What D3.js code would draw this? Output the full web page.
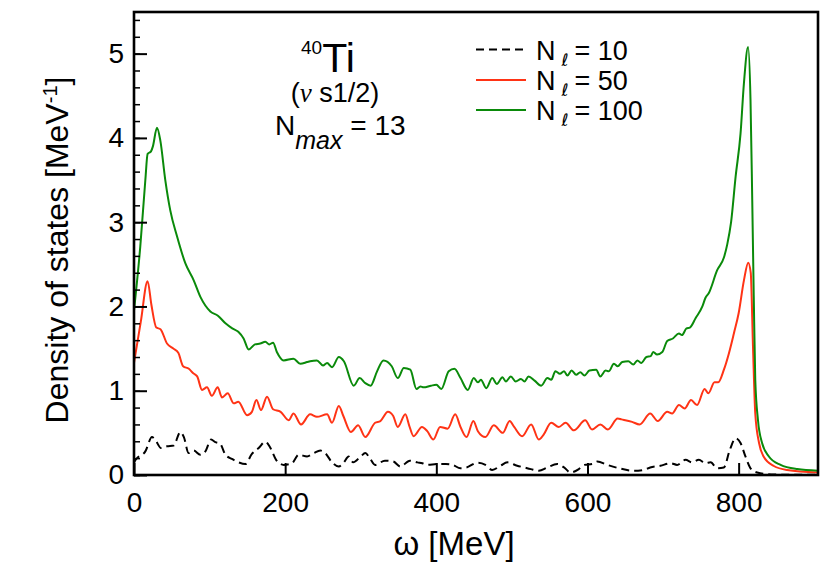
<!DOCTYPE html>
<html>
<head>
<meta charset="utf-8">
<script src="https://cdn.jsdelivr.net/npm/d3@7"></script>
<style>
  body { margin: 0; background: #fff; }
  svg { display: block; }
  text { font-family: "Liberation Sans", Arial, Helvetica, sans-serif; fill: #000; }
</style>
</head>
<body>
<svg id="chart" width="830" height="586"></svg>
<script>
// ---------------- data ----------------
const xTicks = [0, 200, 400, 600, 800];
const yTicks = [0, 1, 2, 3, 4, 5];
const seriesLabels = ["10", "50", "100"];

const omega10 = [0, 3, 15, 23.8, 28.6, 35.7, 43.7, 52.5, 61.3, 66, 72.3, 79, 87.8, 94.4, 102, 107.6, 114, 121, 129.6, 138.5, 147.3, 156, 165, 173.8, 180, 188, 198, 209, 218, 229, 238, 246.6, 253, 262, 271, 277.7, 284, 290, 300, 306, 312, 319, 332, 343, 352.5, 365, 375, 381.5, 388, 401.5, 412.6, 421.5, 432, 440, 454, 465, 474, 485, 494, 507, 516, 525, 535.6, 547, 560, 569, 577.5, 588.6, 596, 606.5, 613, 626, 641.6, 661, 674, 683, 696.5, 710, 718.6, 729.7, 738.5, 747.4, 756, 763, 771.6, 780.5, 788.4, 796, 802.5, 809, 815.7, 824.5, 847, 907];
const dos10 = [0.15, 0.19, 0.28, 0.45, 0.41, 0.32, 0.34, 0.35, 0.51, 0.45, 0.26, 0.29, 0.24, 0.28, 0.42, 0.39, 0.37, 0.24, 0.19, 0.15, 0.13, 0.25, 0.32, 0.395, 0.33, 0.18, 0.12, 0.14, 0.24, 0.22, 0.26, 0.29, 0.26, 0.15, 0.10, 0.15, 0.22, 0.15, 0.22, 0.26, 0.20, 0.12, 0.17, 0.16, 0.10, 0.17, 0.15, 0.14, 0.12, 0.13, 0.13, 0.12, 0.08, 0.09, 0.145, 0.12, 0.06, 0.11, 0.15, 0.11, 0.09, 0.07, 0.05, 0.09, 0.13, 0.09, 0.03, 0.07, 0.12, 0.13, 0.16, 0.12, 0.08, 0.05, 0.06, 0.09, 0.11, 0.14, 0.12, 0.18, 0.15, 0.18, 0.14, 0.15, 0.08, 0.09, 0.30, 0.435, 0.38, 0.22, 0.08, 0.03, 0.005, 0.003];

const omega50 = [0, 9, 18, 23, 29.5, 35, 43.7, 52, 58.6, 65, 72.6, 78, 83.6, 90, 96.6, 103, 110.7, 116.5, 124, 132, 138, 149.6, 156, 162, 168, 176, 184, 194, 204.7, 211, 221, 233, 242, 255.5, 262, 271, 277, 287, 296.5, 306, 319, 326, 336, 343, 349, 359, 364, 370, 381, 388, 396, 405, 415, 425, 432, 440, 449, 455, 465, 476, 488, 497, 503, 513.5, 525.5, 535.6, 542, 552, 562, 571, 582, 597, 606, 617, 627, 640, 645, 659, 669, 683, 693, 705.5, 712, 721, 728.6, 737, 745, 755, 760, 768, 773, 780.5, 787, 793.7, 800, 807, 812.7, 816, 819, 822, 827, 833, 846.6, 864, 907];
const dos50 = [1.33, 1.82, 2.30, 2.02, 1.75, 1.73, 1.56, 1.50, 1.45, 1.29, 1.26, 1.21, 1.17, 1.01, 1.04, 0.94, 1.04, 0.92, 0.97, 0.85, 0.87, 0.71, 0.75, 0.89, 0.77, 0.93, 0.78, 0.75, 0.65, 0.73, 0.60, 0.72, 0.69, 0.72, 0.62, 0.82, 0.70, 0.51, 0.59, 0.45, 0.62, 0.64, 0.75, 0.70, 0.57, 0.72, 0.59, 0.46, 0.57, 0.52, 0.42, 0.57, 0.55, 0.72, 0.57, 0.45, 0.64, 0.52, 0.45, 0.59, 0.50, 0.64, 0.57, 0.46, 0.60, 0.42, 0.48, 0.62, 0.57, 0.62, 0.53, 0.65, 0.54, 0.60, 0.54, 0.67, 0.66, 0.63, 0.60, 0.73, 0.64, 0.75, 0.73, 0.83, 0.79, 0.89, 0.83, 1.02, 0.97, 1.10, 1.10, 1.25, 1.44, 1.68, 1.92, 2.31, 2.52, 2.40, 1.52, 0.73, 0.38, 0.22, 0.107, 0.06, 0.03];

const omega100 = [0, 8.3, 15, 18, 22.5, 25, 30.4, 34.8, 41.4, 48, 57, 68, 79, 88, 101, 111, 121, 130, 138, 145, 151.7, 160, 167, 173.8, 179, 184, 189, 198, 211, 220, 229, 233, 242, 250, 255.5, 262, 271, 277.7, 290.7, 298.6, 306, 313, 321.6, 330, 341, 349, 357, 365.6, 373.7, 379, 383, 393, 400, 406.6, 416.4, 424, 432, 441.6, 449.6, 455, 459, 466, 474, 480, 487.5, 492, 498.6, 505, 512, 516.6, 522, 530, 538.7, 547, 552, 557.6, 563.5, 569, 573.5, 579, 585, 590.5, 596, 602.6, 611.5, 617, 624, 628, 635, 640, 646, 654, 660.6, 666, 671, 678, 683.6, 687, 692, 699, 705.5, 713, 721, 725, 731, 735.5, 743, 752, 756, 760.6, 771.6, 780.5, 785, 790, 796, 802.5, 807, 812.5, 815.7, 818, 820, 822, 825.6, 831, 840, 855.5, 877.6, 907];
const dos100 = [1.95, 2.71, 3.50, 3.81, 3.84, 3.90, 4.12, 3.97, 3.50, 3.14, 2.83, 2.51, 2.31, 2.11, 1.94, 1.89, 1.80, 1.74, 1.70, 1.62, 1.49, 1.55, 1.56, 1.58, 1.55, 1.57, 1.46, 1.36, 1.38, 1.32, 1.34, 1.35, 1.36, 1.30, 1.33, 1.28, 1.40, 1.35, 1.06, 1.15, 1.09, 1.06, 1.23, 1.36, 1.29, 1.15, 1.27, 1.25, 1.02, 1.05, 1.04, 1.06, 1.07, 1.02, 1.23, 1.26, 1.15, 1.01, 1.15, 1.10, 1.13, 1.03, 1.15, 1.08, 1.16, 1.11, 1.17, 1.11, 1.14, 1.11, 1.17, 1.12, 1.06, 1.15, 1.13, 1.23, 1.20, 1.23, 1.18, 1.24, 1.19, 1.22, 1.18, 1.24, 1.25, 1.17, 1.24, 1.23, 1.32, 1.29, 1.34, 1.35, 1.31, 1.36, 1.33, 1.40, 1.41, 1.46, 1.43, 1.46, 1.59, 1.62, 1.68, 1.66, 1.74, 1.75, 1.86, 2.00, 2.10, 2.16, 2.43, 2.58, 2.74, 3.00, 3.54, 4.05, 4.65, 5.08, 4.45, 3.26, 2.12, 1.13, 0.65, 0.38, 0.22, 0.12, 0.07, 0.05];

// ---------------- chart ----------------
const svg = d3.select("#chart");
const L = 134, R = 818, T = 12, B = 475;
const x = d3.scaleLinear().domain([0, 905]).range([L, R]);
const y = d3.scaleLinear().domain([0, 5.5]).range([B, 11.5]);

svg.append("defs").append("clipPath").attr("id", "clip")
  .append("rect").attr("x", L).attr("y", T).attr("width", R - L).attr("height", B - T);

const line = d3.line().x(d => x(d[0])).y(d => y(d[1])).curve(d3.curveMonotoneX);
const plot = svg.append("g").attr("clip-path", "url(#clip)");

const series = [
  { om: omega10, v: dos10, color: "#000", dash: "8,5" },
  { om: omega50, v: dos50, color: "#ff3315", dash: null },
  { om: omega100, v: dos100, color: "#0a8a0a", dash: null }
];
series.forEach(s => {
  plot.append("path")
    .datum(s.om.map((o, i) => [o, s.v[i]]))
    .attr("d", line)
    .attr("fill", "none")
    .attr("stroke", s.color)
    .attr("stroke-width", 2)
    .attr("stroke-dasharray", s.dash)
    .attr("stroke-linejoin", "round");
});

// minor y ticks
svg.append("g").attr("transform", `translate(${L},0)`)
  .call(d3.axisLeft(y).tickValues(d3.range(0, 5.5001, 0.2)).tickSize(-6).tickFormat(""))
  .call(g => g.select(".domain").remove())
  .call(g => g.selectAll("line").attr("stroke-width", 1.5));

// major y ticks
svg.append("g").attr("transform", `translate(${L},0)`)
  .call(d3.axisLeft(y).tickValues(yTicks).tickSize(-13).tickPadding(10).tickFormat(d3.format("d")))
  .call(g => g.select(".domain").remove())
  .call(g => g.selectAll("line").attr("stroke-width", 2))
  .call(g => g.selectAll("text").attr("font-size", 28).attr("font-family", "Liberation Sans, Arial, sans-serif"));

// x ticks
svg.append("g").attr("transform", `translate(0,${B})`)
  .call(d3.axisBottom(x).tickValues(xTicks).tickSize(-12).tickPadding(17).tickFormat(d3.format("d")))
  .call(g => g.select(".domain").remove())
  .call(g => g.selectAll("line").attr("stroke-width", 2))
  .call(g => g.selectAll("text").attr("font-size", 28).attr("font-family", "Liberation Sans, Arial, sans-serif"));

// frame
svg.append("rect").attr("x", L).attr("y", T).attr("width", R - L).attr("height", B - T)
  .attr("fill", "none").attr("stroke", "#000").attr("stroke-width", 2.6);

// axis titles
svg.append("text").attr("x", 454).attr("y", 555).attr("text-anchor", "middle")
  .attr("font-size", 33).text("ω [MeV]");

const yt = svg.append("text").attr("transform", "translate(68,250) rotate(-90)")
  .attr("text-anchor", "middle").attr("font-size", 32);
yt.append("tspan").text("Density of states [MeV");
yt.append("tspan").attr("font-size", 20).attr("dy", -11).text("-1");
yt.append("tspan").attr("dy", 11).text("]");

// annotation
const a1 = svg.append("text").attr("x", 301).attr("y", 72);
a1.append("tspan").attr("font-size", 19).attr("dy", -18).text("40");
a1.append("tspan").attr("font-size", 41).attr("dy", 18).text("Ti");

const a2 = svg.append("text").attr("x", 335).attr("y", 102).attr("text-anchor", "middle").attr("font-size", 27);
a2.append("tspan").text("(");
a2.append("tspan").attr("font-family", "Liberation Serif, DejaVu Serif, serif").attr("font-style", "italic").text("ν");
a2.append("tspan").text(" s1/2)");

const a3 = svg.append("text").attr("x", 275).attr("y", 135).attr("font-size", 28);
a3.append("tspan").text("N");
a3.append("tspan").attr("font-size", 25).attr("font-style", "italic").attr("dy", 14).text("max");
a3.append("tspan").attr("dy", -14).text(" = 13");

// legend
const legY = [49.5, 80, 110];
series.forEach((s, i) => {
  svg.append("line").attr("x1", 476).attr("x2", 526).attr("y1", legY[i]).attr("y2", legY[i])
    .attr("stroke", s.color).attr("stroke-width", 2).attr("stroke-dasharray", s.dash);
  const t = svg.append("text").attr("x", 536).attr("y", legY[i] + 10).attr("font-size", 27);
  t.append("tspan").text("N");
  t.append("tspan").attr("font-family", "DejaVu Sans, sans-serif").attr("font-size", 17)
    .attr("dx", 6).attr("dy", 6).text("ℓ");
  t.append("tspan").attr("dx", 6).attr("dy", -6).text("= " + seriesLabels[i]);
});
</script>
</body>
</html>
